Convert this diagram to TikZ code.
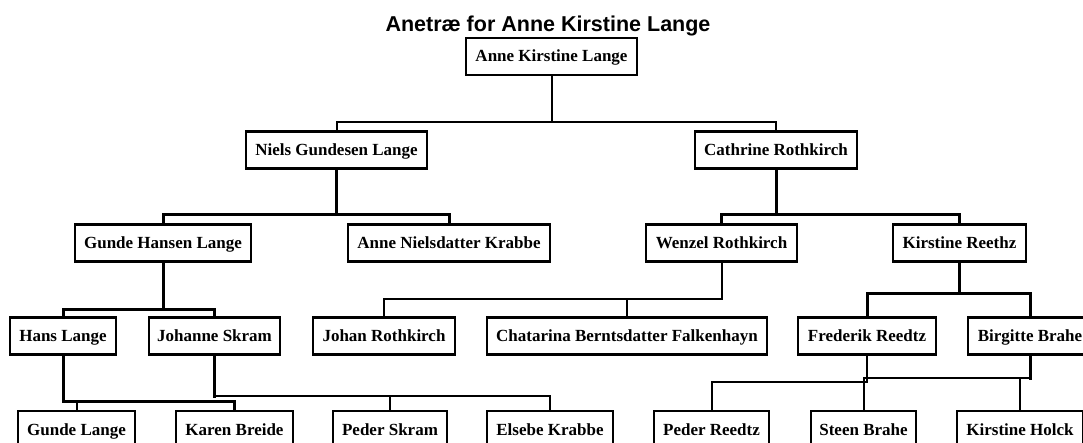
\documentclass[tikz,border=0pt]{standalone}
\usepackage{fontspec}
\setmainfont{Liberation Serif}
\newfontfamily\titlefont{Liberation Sans}

\tikzset{
  person/.style={draw, line width=2.2pt, inner sep=0pt, minimum height=37pt,
    text height=12pt, text depth=1pt,
    font=\fontsize{17}{18}\selectfont\bfseries},
  link/.style={line width=2pt, line cap=rect},
  heavylink/.style={line width=3pt, line cap=rect},
}

\begin{document}
\begin{tikzpicture}[x=1pt,y=-1pt]
  \useasboundingbox (0,0) rectangle (1083,443);
  \clip (0,0) rectangle (1083,443);

  % Title
  \node[font={\titlefont\fontsize{21.5}{24}\selectfont\bfseries}, anchor=base]
    (title) at (548,32) {Anetræ for Anne Kirstine Lange};

  % Generation 1
  \node[person, minimum width=171pt] (anneK) at (551.5,56.5) {Anne Kirstine Lange};

  % Generation 2
  \node[person, minimum width=181pt] (niels)    at (336.5,150) {Niels Gundesen Lange};
  \node[person, minimum width=162pt] (cathrine) at (776,150)   {Cathrine Rothkirch};

  % Generation 3
  \node[person, minimum width=176pt] (gundeH)    at (163,243)   {Gunde Hansen Lange};
  \node[person, minimum width=202pt] (anneN)     at (449,243)   {Anne Nielsdatter Krabbe};
  \node[person, minimum width=151pt] (wenzel)    at (721.5,243) {Wenzel Rothkirch};
  \node[person, minimum width=133pt] (kirstineR) at (959.5,243) {Kirstine Reethz};

  % Generation 4
  \node[person, minimum width=106pt] (hans)      at (63,336)    {Hans Lange};
  \node[person, minimum width=131pt] (johanne)   at (214.5,336) {Johanne Skram};
  \node[person, minimum width=142pt] (johan)     at (384,336)   {Johan Rothkirch};
  \node[person, minimum width=280pt] (chatarina) at (627,336)   {Chatarina Berntsdatter Falkenhayn};
  \node[person, minimum width=138pt] (frederik)  at (867,336)   {Frederik Reedtz};
  \node[person, minimum width=124pt] (birgitte)  at (1030,336)  {Birgitte Brahe};

  % Generation 5
  \node[person, minimum width=117pt] (gundeL)    at (76.5,429.5)  {Gunde Lange};
  \node[person, minimum width=117pt] (karen)     at (234.5,429.5) {Karen Breide};
  \node[person, minimum width=114pt] (pederS)    at (390,429.5)   {Peder Skram};
  \node[person, minimum width=126pt] (elsebe)    at (550,429.5)   {Elsebe Krabbe};
  \node[person, minimum width=115pt] (pederR)    at (711.5,429.5) {Peder Reedtz};
  \node[person, minimum width=105pt] (steen)     at (863.5,429.5) {Steen Brahe};
  \node[person, minimum width=126pt] (kirstineH) at (1020,429.5)  {Kirstine Holck};

  % Parents of Anne Kirstine Lange
  \draw[link] (anneK.south) -- (anneK.south |- 0,122) coordinate (jA)
    (niels.north) |- (jA) -| (cathrine.north);

  % Parents of Niels and Cathrine
  \draw[heavylink] (niels.south) -- (niels.south |- 0,215) coordinate (jB)
    (gundeH.north) |- (jB) -| (anneN.north);
  \draw[heavylink] (cathrine.south) -- (cathrine.south |- 0,215) coordinate (jC)
    (wenzel.north) |- (jC) -| (kirstineR.north);

  % Parents of generation 3
  \draw[heavylink] (gundeH.south) -- (gundeH.south |- 0,309) coordinate (jD)
    (hans.north) |- (jD) -| (johanne.north);
  \draw[link] (wenzel.south) |- (johan.north |- 0,299) -- (johan.north);
  \draw[link] (chatarina.north) -- (chatarina.north |- 0,299);
  \draw[heavylink] (kirstineR.south) -- (kirstineR.south |- 0,294) coordinate (jE)
    (frederik.north) |- (jE) -| (birgitte.north);

  % Parents of generation 4
  \draw[heavylink] (hans.south) |- (karen.north |- 0,401) -- (karen.north);
  \draw[link] (gundeL.north) -- (gundeL.north |- 0,401);
  \draw[heavylink] (johanne.south) -- (johanne.south |- 0,396);
  \draw[link] (johanne.south |- 0,396) -| (elsebe.north);
  \draw[link] (pederS.north) -- (pederS.north |- 0,396);
  \draw[link] (frederik.south) |- (pederR.north |- 0,382) -- (pederR.north);
  \draw[heavylink] (birgitte.south) -- (birgitte.south |- 0,378);
  \draw[link] (birgitte.south |- 0,378) -| (steen.north);
  \draw[link] (kirstineH.north) -- (kirstineH.north |- 0,378);
\end{tikzpicture}
\end{document}
